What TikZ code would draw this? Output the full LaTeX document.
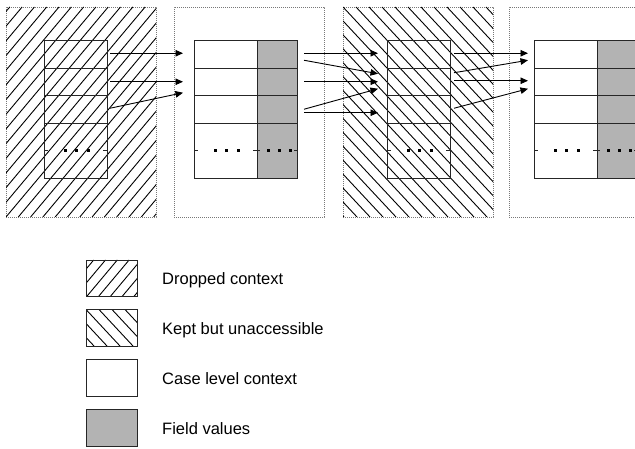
\documentclass[tikz,border=0pt]{standalone}
\usepackage{fontspec}
\setmainfont{Liberation Sans}
\usetikzlibrary{arrows.meta,calc}

\definecolor{fieldgray}{RGB}{179,179,179}
\definecolor{framegray}{RGB}{120,120,120}

\tikzset{
  panel/.style={draw=framegray, line width=0.9pt, dash pattern=on 1.2pt off 0.8pt,
                inner sep=0pt, outer sep=0pt, anchor=north west,
                minimum width=150pt, minimum height=210pt},
  cell/.style={draw=black!85, line width=0.9pt, inner sep=0pt, outer sep=0pt,
               anchor=north west, minimum width=63pt, minimum height=27.5pt},
  fieldcell/.style={cell, fill=fieldgray, minimum width=40pt},
  hatch/.style={black, line width=0.9pt},
  tick/.style={black!85, line width=0.8pt},
  arr/.style={-{Triangle[length=7.5pt,width=6.5pt]}, black, line width=0.9pt},
  legbox/.style={draw=black!85, line width=0.9pt, inner sep=0pt, outer sep=0pt,
                 anchor=north west, minimum width=51pt, minimum height=36.5pt},
  legtext/.style={anchor=base west, inner sep=0pt,
                  font=\fontsize{16.5pt}{19pt}\selectfont}
}

\begin{document}
\begin{tikzpicture}[x=1pt, y=-1pt]
\useasboundingbox (0,0) rectangle (635,449);

% ---- outer frames of the four stages ----
\node[panel] (P1) at (6,7) {};
\node[panel] (P2) at (174,7) {};
\node[panel] (P3) at (343,7) {};
\node[panel, minimum width=160pt] (P4) at (509,7) {};

% dropped stage: forward hatching
\begin{scope}
  \clip (P1.north west) rectangle (P1.south east);
  \foreach \k in {-15,...,13}
    \draw[hatch] (6+12.3*\k, 217) -- ++(176,-210);
\end{scope}

% kept stage: backward hatching
\begin{scope}
  \clip (P3.north west) rectangle (P3.south east);
  \foreach \k in {-16,...,12}
    \draw[hatch] (343+13*\k, 7) -- ++(196,210);
\end{scope}

% ---- context columns, four rows each ----
\foreach \p/\x in {1/44, 2/194, 3/387, 4/534}
  \foreach \r/\y/\h in {1/40.5/27.5, 2/68/27.5, 3/95.5/27.5, 4/123/55}
    \node[cell, minimum height=\h pt] (p\p a\r) at (\x,\y) {};

% ---- field value columns ----
\foreach \p/\x in {2/257, 4/597}
  \foreach \r/\y/\h in {1/40.5/27.5, 2/68/27.5, 3/95.5/27.5, 4/123/55}
    \node[fieldcell, minimum height=\h pt] (p\p b\r) at (\x,\y) {};

% ---- ellipsis marks in the last row ----
\foreach \n in {p1a4, p2a4, p3a4, p4a4} {
  \draw[tick] (\n.west) -- +(4,0);
  \draw[tick] (\n.east) -- +(-4,0);
  \foreach \d in {21, 32.5, 44}
    \fill ($(\n.west)+(\d,0)$) +(-1.5,-1.5) rectangle +(1.5,1.5);
}
\foreach \n in {p2b4, p4b4} {
  \draw[tick] (\n.west) -- +(3,0);
  \draw[tick] (\n.east) -- +(-3,0);
  \foreach \d in {11, 22, 33}
    \fill ($(\n.west)+(\d,0)$) +(-1.5,-1.5) rectangle +(1.5,1.5);
}

% ---- stage 1 -> stage 2 ----
\draw[arr] ($(p1a1.east)+(3,-1)$) -- ($(p2a1.west)+(-11,-1)$);
\draw[arr] ($(p1a2.east)+(3,0)$)  -- ($(p2a2.west)+(-11,0)$);
\draw[arr] ($(p1a3.east)+(3,-1)$) -- ($(p2a2.west)+(-11,11)$);

% ---- stage 2 -> stage 3 ----
\draw[arr] ($(p2b1.east)+(7,-1)$)  -- ($(p3a1.west)+(-9,-1)$);
\draw[arr] ($(p2b1.east)+(7,6)$)   -- ($(p3a2.west)+(-9,-8)$);
\draw[arr] ($(p2b2.east)+(7,0)$)   -- ($(p3a2.west)+(-9,0)$);
\draw[arr] ($(p2b3.east)+(7,0)$)   -- ($(p3a2.west)+(-9,7)$);
\draw[arr] ($(p2b3.east)+(7,3.5)$) -- ($(p3a3.west)+(-9,3.5)$);

% ---- stage 3 -> stage 4 ----
\draw[arr] ($(p3a1.east)+(4,-1)$) -- ($(p4a1.west)+(-6,-1)$);
\draw[arr] ($(p3a2.east)+(4,-9)$) -- ($(p4a1.west)+(-6,6)$);
\draw[arr] ($(p3a2.east)+(4,-1)$) -- ($(p4a2.west)+(-6,-1)$);
\draw[arr] ($(p3a3.east)+(4,-1)$) -- ($(p4a2.west)+(-6,7)$);

% ---- legend ----
\node[legbox] (L1) at (86,260) {};
\node[legbox] (L2) at (86,309.5) {};
\node[legbox] (L3) at (86,359.5) {};
\node[legbox, fill=fieldgray] (L4) at (86,409.5) {};

\begin{scope}
  \clip (L1.north west) rectangle (L1.south east);
  \foreach \k in {-3,...,4}
    \draw[hatch] (86.7+11.8*\k, 296.5) -- ++(30.6,-36.5);
\end{scope}
\begin{scope}
  \clip (L2.north west) rectangle (L2.south east);
  \foreach \k in {-3,...,4}
    \draw[hatch] (86+13*\k, 309.5) -- ++(34,36.5);
\end{scope}
\node[legbox] at (L1.north west) {};
\node[legbox] at (L2.north west) {};

\node[legtext] (T1) at (162,284.5) {Dropped context};
\node[legtext] (T2) at (162,334.5) {Kept but unaccessible};
\node[legtext] (T3) at (162,384.5) {Case level context};
\node[legtext] (T4) at (162,434.5) {Field values};
\end{tikzpicture}
\end{document}
